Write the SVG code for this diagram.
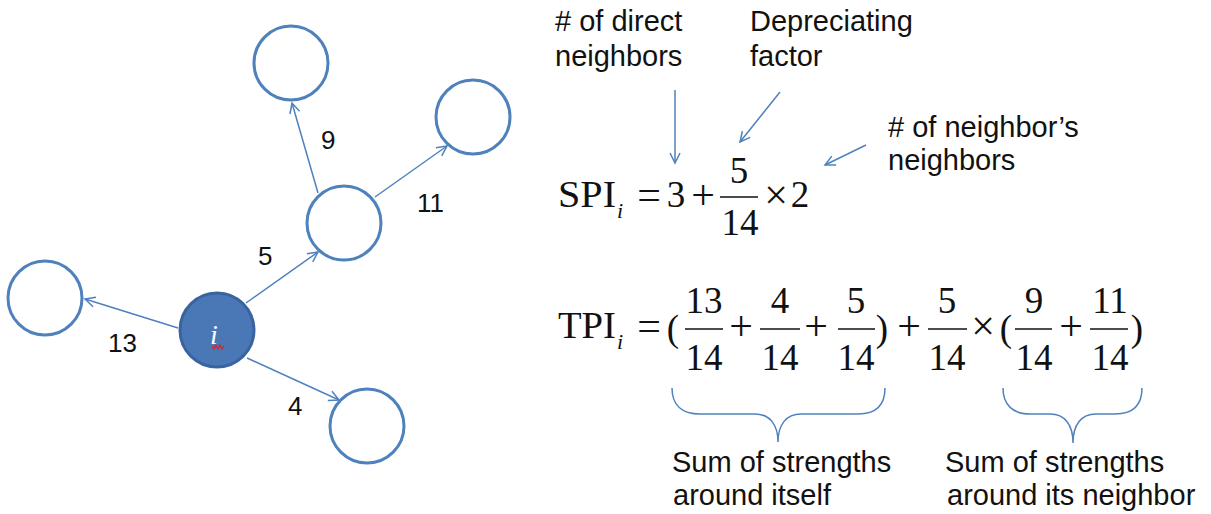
<svg xmlns="http://www.w3.org/2000/svg" width="1211" height="514" viewBox="0 0 1211 514">
<style>
.node{fill:#fff;stroke:#4F81BD;stroke-width:3}
.edge{fill:none;stroke:#4F81BD;stroke-width:1.5;marker-end:url(#ah)}
.lbl{font-family:"Liberation Sans",Arial,sans-serif;font-size:26px;fill:#111}
.note{font-family:"Liberation Sans",Arial,sans-serif;font-size:29px;fill:#111}
.m{font-family:"Liberation Serif","Times New Roman",serif;font-size:37px;fill:#111}
.mc{font-family:"Liberation Serif","Times New Roman",serif;font-size:37px;fill:#111;text-anchor:middle}
.op{font-family:"Liberation Serif","Times New Roman",serif;font-size:42px;fill:#111;text-anchor:middle}
.sub{font-family:"Liberation Serif","Times New Roman",serif;font-size:22px;font-style:italic;fill:#111}
.bar{stroke:#111;stroke-width:1.5}
.brace{fill:none;stroke:#4F81BD;stroke-width:1.5}
</style>
<defs>
<marker id="ah" markerUnits="userSpaceOnUse" markerWidth="14" markerHeight="14" viewBox="0 0 14 14" refX="12" refY="7" orient="auto">
<path d="M2,2 L12,7 L2,12" fill="none" stroke="#4F81BD" stroke-width="1.5"/>
</marker>
</defs>

<g id="connectors">
<line class="edge" x1="246" y1="303" x2="318" y2="252"/>
<line class="edge" x1="318" y1="193" x2="292" y2="103"/>
<line class="edge" x1="375" y1="197" x2="447" y2="146"/>
<line class="edge" x1="178" y1="328" x2="85" y2="299"/>
<line class="edge" x1="247" y1="358" x2="339" y2="400"/>
<line class="edge" x1="675" y1="90" x2="675" y2="163"/>
<line class="edge" x1="780" y1="92" x2="740" y2="142"/>
<line class="edge" x1="866" y1="145" x2="825" y2="165"/>
</g>

<g id="edge-labels">
<text class="lbl" x="321" y="149">9</text>
<text class="lbl" x="417" y="212">11</text>
<text class="lbl" x="258" y="265">5</text>
<text class="lbl" x="108" y="352">13</text>
<text class="lbl" x="288" y="415">4</text>
</g>

<g id="node-top"><circle class="node" cx="291" cy="63" r="37"/></g>
<g id="node-upper-right"><circle class="node" cx="473" cy="117" r="37"/></g>
<g id="node-middle"><circle class="node" cx="344" cy="223" r="37"/></g>
<g id="node-left"><circle class="node" cx="45" cy="298" r="37"/></g>
<g id="node-bottom"><circle class="node" cx="367" cy="426" r="37"/></g>
<g id="node-i">
<circle cx="217" cy="330" r="37" fill="#4A77B5" stroke="#3A64A0" stroke-width="3"/>
<text x="210" y="344" font-family="'Liberation Serif',serif" font-style="italic" font-size="28" fill="#fff">i</text>
<polyline points="212,346 214,349 216,345 218,349 220,345 222,349 224,346" fill="none" stroke="#e02020" stroke-width="1.2"/>
</g>

<g id="annotations">
<text class="note" x="555" y="31"># of direct</text>
<text class="note" x="555" y="66">neighbors</text>
<text class="note" x="750" y="31">Depreciating</text>
<text class="note" x="750" y="66">factor</text>
<text class="note" x="888" y="137"># of neighbor’s</text>
<text class="note" x="888" y="170">neighbors</text>
</g>

<g id="spi-formula">
<text class="m" x="558" y="207" textLength="58" lengthAdjust="spacingAndGlyphs">SPI</text>
<text class="sub" x="617" y="218">i</text>
<text class="op" x="649" y="209">=</text>
<text class="mc" x="676" y="207">3</text>
<text class="op" x="703" y="209">+</text>
<text class="mc" x="739" y="183">5</text>
<line class="bar" x1="720" y1="197" x2="758" y2="197"/>
<text class="mc" x="740" y="235">14</text>
<text class="op" x="776" y="209">×</text>
<text class="mc" x="800" y="207">2</text>
</g>

<g id="tpi-formula">
<text class="m" x="558" y="338" textLength="58" lengthAdjust="spacingAndGlyphs">TPI</text>
<text class="sub" x="617" y="349">i</text>
<text class="op" x="649" y="340">=</text>
<text class="mc" x="673" y="341" font-size="42">(</text>
<text class="mc" x="704" y="313">13</text>
<line class="bar" x1="685" y1="329" x2="723" y2="329"/>
<text class="mc" x="704" y="370">14</text>
<text class="op" x="741" y="340">+</text>
<text class="mc" x="780" y="313">4</text>
<line class="bar" x1="760" y1="329" x2="800" y2="329"/>
<text class="mc" x="780" y="370">14</text>
<text class="op" x="816" y="340">+</text>
<text class="mc" x="856" y="313">5</text>
<line class="bar" x1="838" y1="329" x2="875" y2="329"/>
<text class="mc" x="856" y="370">14</text>
<text class="mc" x="882" y="341" font-size="42">)</text>
<text class="op" x="909" y="340">+</text>
<text class="mc" x="947" y="313">5</text>
<line class="bar" x1="928" y1="329" x2="967" y2="329"/>
<text class="mc" x="947" y="370">14</text>
<text class="op" x="983" y="340">×</text>
<text class="mc" x="1006" y="341" font-size="42">(</text>
<text class="mc" x="1034" y="313">9</text>
<line class="bar" x1="1015" y1="329" x2="1052" y2="329"/>
<text class="mc" x="1034" y="370">14</text>
<text class="op" x="1071" y="340">+</text>
<text class="mc" x="1110" y="313">11</text>
<line class="bar" x1="1090" y1="329" x2="1128" y2="329"/>
<text class="mc" x="1110" y="370">14</text>
<text class="mc" x="1137" y="341" font-size="42">)</text>
</g>

<g id="braces">
<path class="brace" d="M672,388 C672,405 682,414 700,414 L755,414 C770,414 778,425 778,442 C778,425 786,414 801,414 L858,414 C876,414 885,405 885,388"/>
<path class="brace" d="M1003,388 C1003,405 1013,414 1030,414 L1050,414 C1065,414 1073,425 1073,443 C1073,425 1081,414 1096,414 L1115,414 C1133,414 1142,405 1142,388"/>
</g>

<g id="brace-labels">
<text class="note" x="672" y="472">Sum of strengths</text>
<text class="note" x="673" y="505">around itself</text>
<text class="note" x="945" y="472">Sum of strengths</text>
<text class="note" x="947" y="505">around its neighbor</text>
</g>
</svg>
